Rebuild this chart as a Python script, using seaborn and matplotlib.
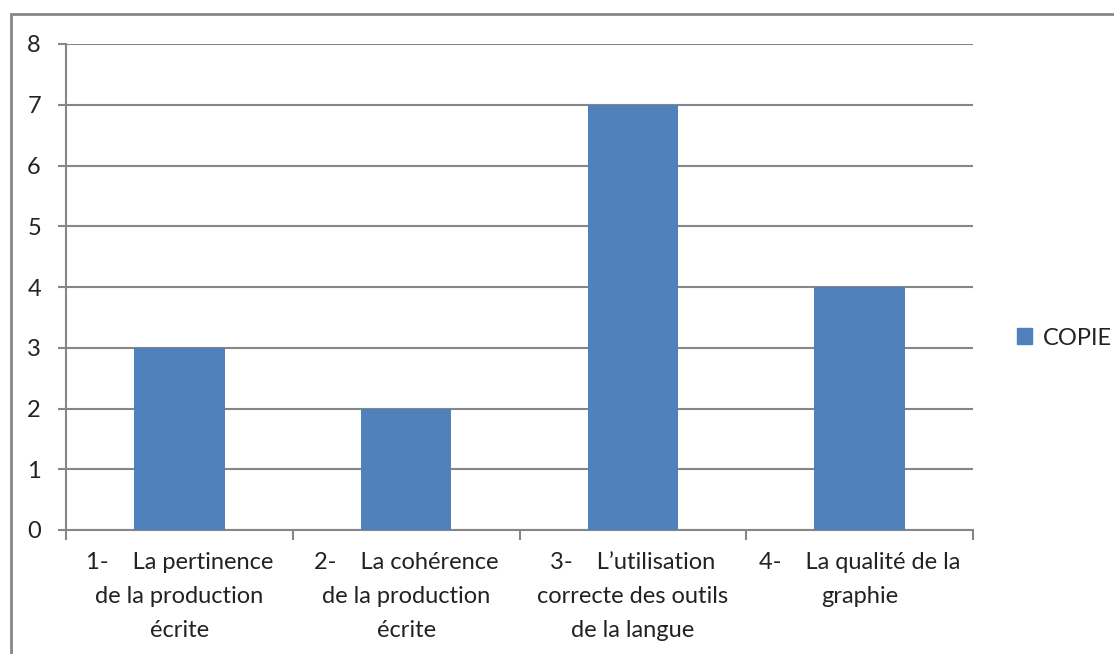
import matplotlib.pyplot as plt
import matplotlib.patches as mpatches
import seaborn as sns
import pandas as pd

categories = [
    "1-    La pertinence\nde la production\nécrite",
    "2-    La cohérence\nde la production\nécrite",
    "3-    L\u2019utilisation\ncorrecte des outils\nde la langue",
    "4-    La qualité de la\ngraphie",
]
copie = [3, 2, 7, 4]
y_ticks = [0, 1, 2, 3, 4, 5, 6, 7, 8]

BAR_COLOR = "#4F81BD"
GRID_COLOR = "#868686"
TEXT_COLOR = "#222222"

sns.set_style("white")
plt.rcParams["font.family"] = ["Lato", "DejaVu Sans"]

frame = pd.DataFrame({"critere": categories, "COPIE": copie})

fig = plt.figure(figsize=(11.14, 6.54), dpi=100)
ax = fig.add_axes([66 / 1114, 1 - 530 / 654, (973 - 66) / 1114, (530 - 44) / 654])

sns.barplot(data=frame, x="critere", y="COPIE", color=BAR_COLOR, width=0.4,
            saturation=1, linewidth=0, ax=ax, zorder=3)

ax.set_xlim(-0.5, len(categories) - 0.5)
ax.set_ylim(0, 8)
ax.set_yticks(y_ticks)
ax.yaxis.grid(True, color=GRID_COLOR, lw=1.5, zorder=0)
ax.set_axisbelow(True)
ax.set_xlabel("")
ax.set_ylabel("")

for side in ("top", "right"):
    ax.spines[side].set_visible(False)
for side in ("left", "bottom"):
    ax.spines[side].set_color(GRID_COLOR)
    ax.spines[side].set_linewidth(1.5)

ax.tick_params(axis="y", length=6, width=1.5, color=GRID_COLOR, labelsize=17,
               labelcolor=TEXT_COLOR, left=True, pad=12)

# category labels centred, ticks on the category boundaries
ax.set_xticks(range(len(categories)))
ax.set_xticklabels(categories, fontsize=17, color=TEXT_COLOR, linespacing=1.75)
ax.tick_params(axis="x", length=0, pad=16)
ax.set_xticks([i - 0.5 for i in range(len(categories) + 1)], minor=True)
ax.tick_params(axis="x", which="minor", length=7, width=1.5, color=GRID_COLOR,
               bottom=True)

ax.legend(handles=[mpatches.Patch(color=BAR_COLOR, label="COPIE")],
          loc="center left", bbox_to_anchor=(1.048, 0.395), frameon=False,
          fontsize=17, handlelength=0.65, handleheight=0.65, handletextpad=0.45,
          borderpad=0, borderaxespad=0, labelcolor=TEXT_COLOR)

# outer chart-area border
fig.patches.append(mpatches.Rectangle((11 / 1114, -0.1), 1.2, 1 - 14 / 654 + 0.1,
                                      transform=fig.transFigure, fill=False,
                                      edgecolor=GRID_COLOR, lw=2))

fig.savefig("out.png", dpi=100)
